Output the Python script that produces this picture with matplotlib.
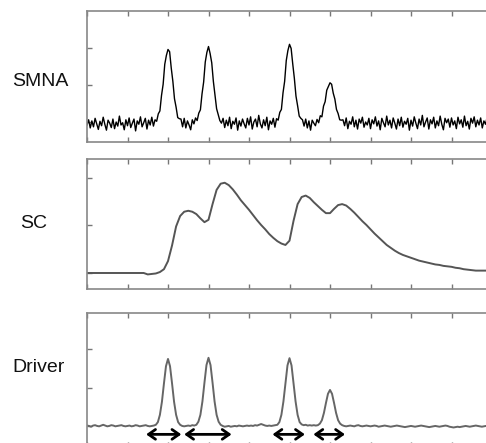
import numpy as np
import matplotlib
matplotlib.use("Agg")
import matplotlib.pyplot as plt

# --- data (x in tick units, 0..10) ---
smna_x = np.linspace(0, 10, 251)
smna_y = [
    -0.08, 0.06, -0.16, 0.03, -0.13, 0.10, -0.05, -0.20, 0.02, -0.10, 0.13, -0.06, -0.22, 0.05, -0.03, -0.15, 0.08, -0.18, 0.00, -0.11, 0.16, -0.08, -0.02, -0.21, 0.06,
    -0.10, 0.11, -0.15, -0.03, 0.08, -0.24, 0.03, -0.06, 0.14, -0.13, -0.02, 0.10, -0.19, 0.05, -0.08, 0.13, -0.11, 0.06, 0.02, 0.22, 0.30, 0.72, 1.02, 1.56, 1.80,
    1.96, 1.90, 1.46, 1.10, 0.63, 0.40, 0.12, 0.09, 0.08, -0.13, 0.10, -0.16, 0.03, -0.08, -0.21, 0.06, -0.05, 0.11, 0.04, 0.24, 0.33, 0.76, 1.08, 1.62, 1.88,
    2.04, 1.85, 1.60, 1.10, 0.74, 0.36, 0.20, 0.04, -0.03, 0.10, -0.15, 0.05, -0.10, 0.13, -0.18, 0.02, -0.06, 0.11, -0.22, 0.03, -0.11, 0.08, -0.05, -0.16, 0.10,
    -0.08, 0.14, -0.19, 0.00, 0.08, -0.13, 0.18, -0.05, -0.16, 0.06, -0.10, 0.13, -0.21, 0.03, -0.06, 0.10, -0.14, 0.09, 0.05, 0.26, 0.34, 0.79, 1.10, 1.66, 1.93,
    2.10, 1.99, 1.57, 1.18, 0.70, 0.44, 0.16, 0.10, 0.06, -0.11, 0.08, -0.16, 0.03, -0.22, 0.05, -0.03, -0.10, 0.07, -0.02, 0.17, 0.14, 0.43, 0.55, 0.86, 0.96,
    1.06, 1.02, 0.78, 0.62, 0.34, 0.23, 0.06, 0.05, 0.06, -0.10, 0.11, -0.18, 0.02, -0.06, 0.14, -0.13, 0.05, -0.19, 0.08, -0.03, 0.13, -0.14, 0.00, -0.08, 0.10,
    -0.18, 0.06, -0.05, 0.14, -0.11, 0.03, -0.21, 0.10, -0.02, -0.13, 0.16, -0.08, 0.05, -0.16, 0.11, -0.03, -0.19, 0.08, -0.10, 0.13, -0.14, 0.02, -0.06, 0.10, -0.22,
    0.05, -0.11, 0.14, -0.03, -0.18, 0.08, -0.08, 0.18, -0.13, 0.00, 0.11, -0.19, 0.06, -0.05, 0.13, -0.16, 0.03, -0.10, 0.16, -0.06, -0.21, 0.10, -0.02, 0.08, -0.14,
    0.11, -0.08, 0.03, -0.18, 0.13, -0.05, 0.06, -0.14, 0.16, -0.10, 0.02, -0.19, 0.10, -0.03, 0.14, -0.13, 0.05, -0.08, 0.11, -0.16, 0.03, -0.06, 0.13, -0.11, 0.02,
    -0.05,
]

sc_x = np.linspace(0, 10, 101)
sc_y = [
    0.00, 0.00, 0.00, 0.00, 0.00, 0.00, 0.00, 0.00, 0.00, 0.00,
    0.00, 0.00, 0.00, 0.00, 0.00, -0.03, -0.02, -0.01, 0.02, 0.08,
    0.25, 0.58, 0.98, 1.20, 1.29, 1.31, 1.29, 1.24, 1.15, 1.07,
    1.12, 1.45, 1.75, 1.88, 1.90, 1.85, 1.76, 1.65, 1.53, 1.43,
    1.33, 1.22, 1.11, 1.01, 0.92, 0.82, 0.74, 0.67, 0.62, 0.59,
    0.68, 1.10, 1.45, 1.60, 1.63, 1.58, 1.49, 1.41, 1.33, 1.26,
    1.26, 1.35, 1.43, 1.45, 1.42, 1.35, 1.27, 1.18, 1.09, 1.01,
    0.92, 0.83, 0.75, 0.67, 0.59, 0.53, 0.47, 0.42, 0.38, 0.35,
    0.32, 0.29, 0.26, 0.24, 0.22, 0.20, 0.18, 0.17, 0.15, 0.14,
    0.13, 0.11, 0.10, 0.08, 0.07, 0.06, 0.05, 0.05, 0.05, 0.05,
    0.05,
]

driver_x = np.linspace(0, 10, 201)
driver_y = [
    0.01, 0.00, -0.02, 0.01, 0.02, 0.00, -0.01, 0.01, 0.03, 0.01, -0.01, 0.00, 0.02, 0.01, -0.01, 0.00, 0.01, 0.02, 0.00, -0.01,
    0.00, 0.01, -0.01, 0.00, 0.02, 0.01, -0.01, 0.00, 0.01, 0.02, 0.00, -0.01, 0.00, 0.01, 0.03, 0.10, 0.29, 0.63, 1.11, 1.56,
    1.75, 1.56, 1.11, 0.63, 0.29, 0.10, 0.03, 0.00, -0.01, 0.00, 0.01, 0.00, 0.02, 0.01, 0.03, 0.11, 0.29, 0.64, 1.13, 1.59,
    1.78, 1.59, 1.13, 0.64, 0.29, 0.11, 0.03, 0.00, -0.02, -0.01, 0.00, -0.02, -0.01, 0.00, -0.01, 0.01, 0.00, -0.01, 0.00, 0.01,
    0.00, 0.01, 0.00, 0.02, 0.01, 0.03, 0.05, 0.03, 0.01, 0.00, 0.01, 0.00, 0.01, 0.02, 0.03, 0.10, 0.29, 0.64, 1.12, 1.58,
    1.77, 1.58, 1.12, 0.64, 0.29, 0.10, 0.04, 0.02, 0.03, 0.01, 0.02, 0.01, 0.02, 0.01, 0.02, 0.06, 0.15, 0.34, 0.60, 0.84,
    0.94, 0.84, 0.60, 0.34, 0.15, 0.06, 0.02, 0.00, -0.01, 0.00, 0.01, 0.00, -0.01, 0.01, 0.02, 0.00, -0.01, 0.00, 0.01, 0.00,
    -0.01, 0.00, 0.01, 0.00, -0.02, -0.01, 0.00, 0.01, 0.00, -0.01, -0.02, -0.01, 0.00, 0.01, 0.00, -0.01, -0.02, -0.03, -0.02, -0.01,
    0.00, -0.01, -0.02, -0.01, 0.00, 0.01, 0.00, -0.01, -0.02, -0.03, -0.02, -0.01, 0.00, -0.01, -0.02, -0.01, 0.00, 0.01, 0.00, -0.02,
    -0.03, -0.04, -0.03, -0.02, -0.03, -0.02, -0.01, 0.00, -0.01, -0.02, -0.01, 0.00, 0.01, 0.00, -0.01, -0.02, -0.01, 0.00, -0.01, -0.02,
    -0.01,
]

# double-headed arrows under the driver pulses
arrow_start = [1.46, 2.40, 4.58, 5.59]
arrow_end = [2.33, 3.57, 5.38, 6.37]
arrow_y = -0.22

panel_labels = ["SMNA", "SC", "Driver"]

W, H = 486, 443
fig = plt.figure(figsize=(W / 100, H / 100), dpi=100)


def make_axes(top_px, bot_px):
    left, right = 87, 492
    return fig.add_axes([left / W, 1 - bot_px / H, (right - left) / W, (bot_px - top_px) / H])


ax1 = make_axes(11, 142)
ax2 = make_axes(159, 289)
ax3 = make_axes(313, 447)

ax1.plot(smna_x, smna_y, color="black", lw=1.0)
ax2.plot(sc_x, sc_y, color="#555555", lw=1.4)
ax3.plot(driver_x, driver_y, color="#666666", lw=1.4)

ax1.set_ylim(-0.54, 3.0)
ax2.set_ylim(-0.337, 2.4)
ax3.set_ylim(-0.55, 2.95)

for ax in (ax1, ax2, ax3):
    ax.set_xlim(0, 10)
    ax.set_xticks(range(0, 11))
    ax.set_yticks([0, 1, 2])
    ax.tick_params(direction="in", length=3.5, width=1, color="#777777",
                   top=True, right=True, labelbottom=False, labelleft=False)
    for sp in ax.spines.values():
        sp.set_color("#888888")
        sp.set_linewidth(1.2)

for s, e in zip(arrow_start, arrow_end):
    ax3.annotate("", xy=(e, arrow_y), xytext=(s, arrow_y),
                 arrowprops=dict(arrowstyle="<->,head_length=0.5,head_width=0.35",
                                 lw=2, color="black", shrinkA=0, shrinkB=0),
                 annotation_clip=False)

label_pos = [(40, 82), (34, 224), (39, 367)]
for txt, (px, py) in zip(panel_labels, label_pos):
    fig.text(px / W, 1 - py / H, txt, ha="center", va="center",
             fontsize=14, family="Liberation Sans", color="#111111")

fig.savefig("out.png", dpi=100)
